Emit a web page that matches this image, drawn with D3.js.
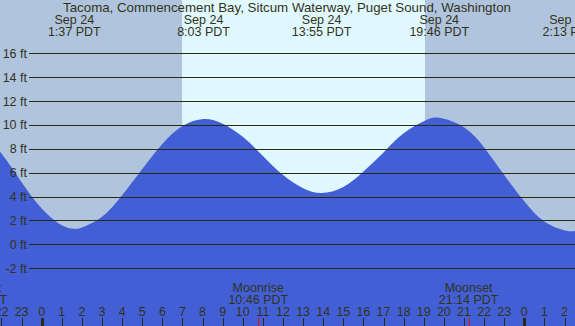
<!DOCTYPE html>
<html>
<head>
<meta charset="utf-8">
<script src="https://cdn.jsdelivr.net/npm/d3@7"></script>
<style>
  body { margin: 0; padding: 0; background: #fff; }
  svg { display: block; }
  text { font-family: "Liberation Sans", Arial, sans-serif; font-size: 12.5px; fill: #33331a; }
  .title { font-size: 13.3px; }
</style>
</head>
<body>
<svg id="chart" width="575" height="326"></svg>
<script>
// ---- data (hours relative to Sep 24 00:00 PDT) ----
const tideHours = [-3, -2, -1, 0, 1, 1.62, 2, 3, 4, 5, 6, 7, 8.05, 9, 10, 11, 12, 13, 13.92,
  15, 16, 17, 18, 19, 19.77, 21, 22, 23, 24, 25, 26.22, 27];
const tideFeet = [9.6, 7.6, 5.2, 3.0, 1.6, 1.3, 1.4, 2.3, 4.1, 6.3, 8.4, 9.9, 10.5, 10.1, 9.0, 7.4, 5.8, 4.7, 4.3,
  4.8, 6.1, 7.7, 9.3, 10.3, 10.6, 9.8, 8.1, 5.8, 3.6, 1.9, 1.1, 1.4];

const extremeHours = [1.62, 8.05, 13.92, 19.77, 26.22];
const extremeDates = ["Sep 24", "Sep 24", "Sep 24", "Sep 24", "Sep 25"];
const extremeTimes = ["1:37 PDT", "8:03 PDT", "13:55 PDT", "19:46 PDT", "2:13 PDT"];

const sunriseHours = [6.98];
const sunsetHours = [19.06];

const moonHours = [-3.2, 10.77, 21.23];
const moonNames = ["Moonset", "Moonrise", "Moonset"];
const moonTimes = ["20:48 PDT", "10:46 PDT", "21:14 PDT"];

const footTicks = [-2, 0, 2, 4, 6, 8, 10, 12, 14, 16];
const hourTicks = d3.range(-2, 27);
const hourLabels = hourTicks.map(h => String((h + 24) % 24));

const title = "Tacoma, Commencement Bay, Sitcum Waterway, Puget Sound, Washington";

// ---- setup ----
const W = 575, H = 326;
const svg = d3.select("#chart");

const x = d3.scaleLinear().domain([-2.074, 26.52]).range([0, W]);
const y = d3.scaleLinear().domain([0, 16]).range([244.3, 53.3]);

// night background, then daylight band
svg.append("rect").attr("width", W).attr("height", H).attr("fill", "#b0c4de");
svg.selectAll(".day").data(sunriseHours).enter().append("rect")
  .attr("class", "day")
  .attr("x", d => x(d))
  .attr("width", (d, i) => x(sunsetHours[i]) - x(d))
  .attr("y", 0).attr("height", H)
  .attr("fill", "#e0f8ff");

// water
const tide = tideHours.map((h, i) => ({ h, ft: tideFeet[i] }));
const area = d3.area()
  .x(d => x(d.h))
  .y0(H)
  .y1(d => y(d.ft))
  .curve(d3.curveNatural);
svg.append("path").datum(tide).attr("d", area).attr("fill", "#425fd6");

// grid lines + foot labels
const grid = svg.append("g");
grid.selectAll("line").data(footTicks).enter().append("line")
  .attr("x1", 29).attr("x2", W)
  .attr("y1", d => Math.round(y(d)) + 0.5).attr("y2", d => Math.round(y(d)) + 0.5)
  .attr("stroke", "#2a2a12").attr("stroke-width", 1.2);
grid.selectAll("text").data(footTicks).enter().append("text")
  .attr("x", 27).attr("y", d => y(d) + 4.5)
  .attr("text-anchor", "end")
  .text(d => d + " ft");

// title
svg.append("text").attr("class", "title")
  .attr("x", 287).attr("y", 12).attr("text-anchor", "middle").text(title);

// high/low labels
const ext = svg.append("g");
ext.selectAll(".d").data(extremeHours).enter().append("text")
  .attr("x", d => x(d)).attr("y", 24).attr("text-anchor", "middle")
  .text((d, i) => extremeDates[i]);
ext.selectAll(".t").data(extremeHours).enter().append("text")
  .attr("x", d => x(d)).attr("y", 36).attr("text-anchor", "middle")
  .text((d, i) => extremeTimes[i]);

// moon labels
const moon = svg.append("g");
moon.selectAll(".n").data(moonHours).enter().append("text")
  .attr("x", d => x(d)).attr("y", 292).attr("text-anchor", "middle")
  .text((d, i) => moonNames[i]);
moon.selectAll(".t").data(moonHours).enter().append("text")
  .attr("x", d => x(d)).attr("y", 303.5).attr("text-anchor", "middle")
  .text((d, i) => moonTimes[i]);

// hour axis
const axis = svg.append("g");
axis.selectAll("text").data(hourTicks).enter().append("text")
  .attr("x", d => x(d)).attr("y", 316).attr("text-anchor", "middle")
  .text((d, i) => hourLabels[i]);
axis.selectAll("line").data(hourTicks).enter().append("line")
  .attr("x1", d => Math.round(x(d)) + 0.5).attr("x2", d => Math.round(x(d)) + 0.5)
  .attr("y1", 318).attr("y2", H)
  .attr("stroke", "#2a2a12")
  .attr("stroke-width", (d, i) => hourLabels[i] === "0" ? 3 : 1);
moon.selectAll("line").data(moonHours).enter().append("line")
  .attr("x1", d => Math.round(x(d)) + 0.5).attr("x2", d => Math.round(x(d)) + 0.5)
  .attr("y1", 318).attr("y2", H)
  .attr("stroke", "#ff0000").attr("stroke-width", 1);
</script>
</body>
</html>
